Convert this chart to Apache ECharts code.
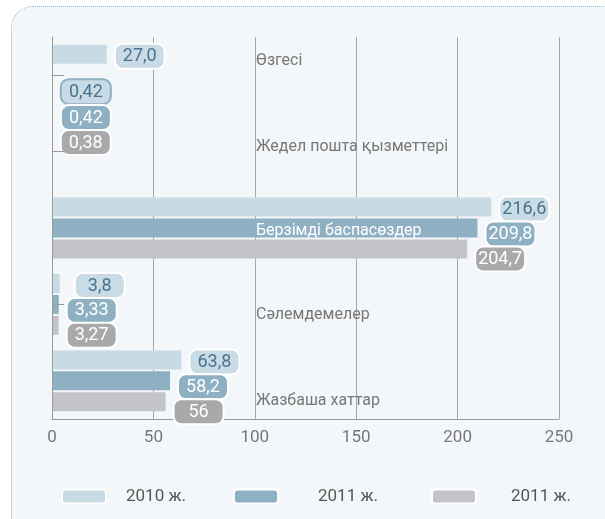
<!DOCTYPE html>
<html>
<head>
<meta charset="utf-8">
<script src="https://cdn.jsdelivr.net/npm/echarts@6/dist/echarts.min.js"></script>
<style>
  html, body { margin: 0; padding: 0; background: #fff; overflow: hidden; }
  .card {
    position: absolute; left: 11px; top: 6px; width: 620px; height: 530px;
    border: 1px dotted #8db5cb; border-radius: 22px; background: #f4f7f9;
  }
  #main { position: absolute; left: 0; top: 0; width: 605px; height: 519px; }
</style>
</head>
<body>
<div class="card"></div>
<div id="main"></div>
<script>
// categories, top to bottom
const categories = ['Өзгесі', 'Жедел пошта қызметтері', 'Берзімді баспасөздер', 'Сәлемдемелер', 'Жазбаша хаттар'];
const legendNames = ['2010 ж.', '2011 ж.', '2011 ж.'];
const values2010 = [27.0, 0.42, 216.6, 3.8, 63.8];
const values2011 = [null, 0.42, 209.8, 3.33, 58.2];
const values2011b = [null, 0.38, 204.7, 3.27, 56];
const labels2010 = ['27,0', '0,42', '216,6', '3,8', '63,8'];
const labels2011 = ['', '0,42', '209,8', '3,33', '58,2'];
const labels2011b = ['', '0,38', '204,7', '3,27', '56'];
const xTicks = [0, 50, 100, 150, 200, 250];

const FONT = 'Roboto, "Noto Sans", sans-serif';
const colors = ['#c8dae3', '#8fb0c3', '#c3c4c7'];
const labelBg = ['#c9dbe4', '#8eb0c3', '#a9a9ab'];
const labelText = ['#477591', '#fff', '#fff'];
const labelDy = [2, 6, 10];
const smallDy = [-39, -34, -30];   // the tiny "Жедел пошта" bars carry their labels higher

function makeSeries(idx, values, texts) {
  return {
    name: 's' + idx,
    type: 'bar',
    barWidth: 19,
    barGap: '10%',
    itemStyle: { color: colors[idx] },
    data: values.map((v, i) => {
      const item = { value: v };
      if (i === 1) {
        item.label = { offset: [0, smallDy[idx]] };
        if (idx === 0) item.label.borderColor = '#8fb0c3';
      }
      if (i === 3 && idx === 0) item.label = { offset: [7, labelDy[idx]] };
      return item;
    }),
    label: {
      show: true,
      position: 'right',
      distance: 9,
      offset: [0, labelDy[idx]],
      formatter: p => '{v|' + texts[p.dataIndex] + '}',
      rich: { v: { width: 44, align: 'center', fontFamily: FONT, fontSize: 18, color: labelText[idx] } },
      backgroundColor: labelBg[idx],
      borderColor: '#fff',
      borderWidth: 2,
      borderRadius: 7,
      padding: [3, 2, 2, 2]
    }
  };
}

// vertical nudges for the category names
const catPad = [[0, 0, 29, 0], [0, 0, 9, 0], [6, 0, 0, 0], [22, 0, 0, 0], [40, 0, 0, 0]];
const rich = {};
catPad.forEach((p, i) => {
  rich['c' + i] = { padding: p, fontFamily: FONT, fontSize: 16, color: i === 2 ? '#fff' : '#777' };
});

const chart = echarts.init(document.getElementById('main'));
chart.setOption({
  animation: false,
  textStyle: { fontFamily: FONT },
  grid: { left: 52, right: 46, top: 37, bottom: 100, containLabel: false },
  legend: legendNames.map((n, i) => ({
    data: ['s' + i],
    left: [56, 228, 426][i],
    top: 483,
    icon: 'roundRect',
    itemWidth: 44,
    itemHeight: 14,
    itemStyle: { borderColor: '#fff', borderWidth: 2 },
    formatter: () => n,
    textStyle: { fontFamily: FONT, fontSize: 17, color: '#555', padding: [0, 0, 0, [15, 35, 30][i]] }
  })),
  xAxis: {
    type: 'value',
    min: 0,
    max: 250,
    interval: 50,
    axisLine: { show: true, lineStyle: { color: '#9a9a9a' } },
    axisTick: { show: false },
    splitLine: { show: true, lineStyle: { color: '#a8a8a8' } },
    axisLabel: {
      color: '#777', fontSize: 17, fontFamily: FONT, margin: 10,
      formatter: v => xTicks.includes(v) ? String(v) : ''
    }
  },
  yAxis: {
    type: 'category',
    inverse: true,
    data: categories,
    z: 5,
    axisLine: { show: true, lineStyle: { color: '#9a9a9a' } },
    axisTick: {
      show: true, inside: true, length: 12, alignWithLabel: true,
      interval: i => i !== 2 && i !== 4,
      lineStyle: { color: '#9a9a9a' }
    },
    axisLabel: {
      inside: true,
      margin: 204,
      align: 'left',
      formatter: (v, i) => '{c' + i + '|' + v + '}',
      rich: rich
    }
  },
  series: [
    makeSeries(0, values2010, labels2010),
    makeSeries(1, values2011, labels2011),
    makeSeries(2, values2011b, labels2011b)
  ]
});
</script>
</body>
</html>
